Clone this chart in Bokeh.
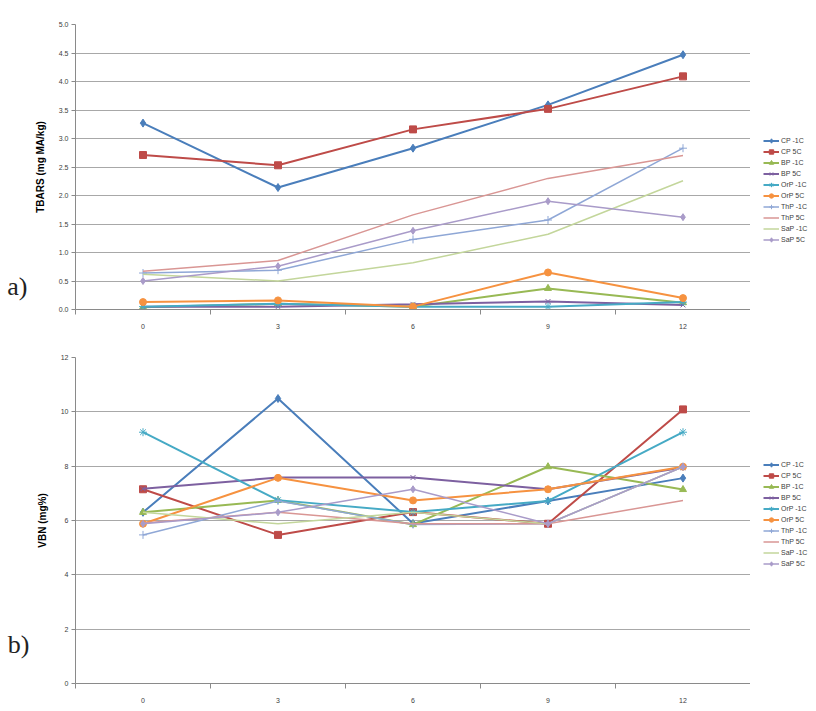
from bokeh.plotting import figure
from bokeh.models import (Range1d, FixedTicker, Legend, LegendItem, LinearAxis,
                          NumeralTickFormatter, CustomJSTickFormatter)
from bokeh.layouts import column, row
from bokeh.embed import file_html
from bokeh.resources import INLINE

# ---------------- data ----------------
days = [0, 3, 6, 9, 12]
series_names = ["CP -1C", "CP 5C", "BP -1C", "BP 5C", "OrP -1C",
                "OrP 5C", "ThP -1C", "ThP 5C", "SaP -1C", "SaP 5C"]

# a) TBARS (mg MA/kg)
tbars_cp_m1 = [3.27, 2.14, 2.83, 3.59, 4.47]
tbars_cp_5 = [2.71, 2.53, 3.16, 3.52, 4.09]
tbars_bp_m1 = [0.04, 0.10, 0.05, 0.37, 0.12]
tbars_bp_5 = [0.05, 0.05, 0.09, 0.14, 0.08]
tbars_orp_m1 = [0.05, 0.10, 0.05, 0.05, 0.13]
tbars_orp_5 = [0.13, 0.16, 0.05, 0.65, 0.20]
tbars_thp_m1 = [0.64, 0.69, 1.23, 1.57, 2.83]
tbars_thp_5 = [0.67, 0.86, 1.66, 2.30, 2.70]
tbars_sap_m1 = [0.62, 0.50, 0.82, 1.32, 2.26]
tbars_sap_5 = [0.50, 0.76, 1.38, 1.90, 1.62]

# b) VBN (mg%)
vbn_cp_m1 = [6.30, 10.49, 5.89, 6.72, 7.56]
vbn_cp_5 = [7.15, 5.47, 6.31, 5.88, 10.09]
vbn_bp_m1 = [6.30, 6.74, 5.85, 7.98, 7.14]
vbn_bp_5 = [7.17, 7.58, 7.58, 7.15, 7.95]
vbn_orp_m1 = [9.25, 6.75, 6.31, 6.72, 9.25]
vbn_orp_5 = [5.88, 7.57, 6.74, 7.15, 7.98]
vbn_thp_m1 = [5.47, 6.72, 5.85, 5.88, 7.98]
vbn_thp_5 = [5.91, 6.30, 5.88, 5.88, 6.74]
vbn_sap_m1 = [6.30, 5.88, 6.30, 5.88, 7.98]
vbn_sap_5 = [5.88, 6.30, 7.15, 5.88, 7.98]

tbars_all = [tbars_cp_m1, tbars_cp_5, tbars_bp_m1, tbars_bp_5, tbars_orp_m1,
             tbars_orp_5, tbars_thp_m1, tbars_thp_5, tbars_sap_m1, tbars_sap_5]
vbn_all = [vbn_cp_m1, vbn_cp_5, vbn_bp_m1, vbn_bp_5, vbn_orp_m1,
           vbn_orp_5, vbn_thp_m1, vbn_thp_5, vbn_sap_m1, vbn_sap_5]

# ---------------- styles ----------------
colors = ["#4A7EBB", "#BE4B48", "#98B954", "#7D60A0", "#46AAC5",
          "#F69240", "#8FA7D6", "#D99694", "#C3D69B", "#A99BC9"]
markers = ["diamond", "square", "triangle", "x", "asterisk",
           "circle", "cross", None, None, "diamond"]
msizes = [8, 7, 7, 7, 8, 7, 8, 0, 0, 7]
lwidths = [2, 2, 2, 2, 2, 2, 1.5, 1.5, 1.5, 1.5]

FONT = "Liberation Sans"
GRID = "#a8a8a8"
AXIS = "#8a8a8a"
MAIN_W = 750
LEG_W = 66


def make_chart(values, ymax, ystep, yfmt, ylabel, tag, tag_pos, h, btop,
               bbottom):
    p = figure(width=MAIN_W, height=h, output_backend="svg",
               toolbar_location=None,
               x_range=Range1d(-1.5, 13.5), y_range=Range1d(0, ymax),
               min_border_left=75, min_border_right=0,
               min_border_top=btop, min_border_bottom=bbottom)
    p.outline_line_color = None
    p.background_fill_color = "white"
    p.border_fill_color = "white"

    # x axis: labels at categories, tick marks between them
    p.xaxis.ticker = FixedTicker(ticks=days,
                                 minor_ticks=[-1.5, 1.5, 4.5, 7.5, 10.5, 13.5])
    p.xaxis.major_tick_out = 0
    p.xaxis.major_tick_in = 0
    p.xaxis.minor_tick_out = 5
    p.xaxis.minor_tick_in = 0
    p.xaxis.major_label_standoff = 9
    p.xgrid.grid_line_color = None

    yt = [round(i * ystep, 2) for i in range(int(round(ymax / ystep)) + 1)]
    p.yaxis.ticker = FixedTicker(ticks=yt)
    p.yaxis.formatter = NumeralTickFormatter(format=yfmt)
    p.yaxis.major_tick_out = 4
    p.yaxis.major_tick_in = 0
    p.yaxis.minor_tick_out = 0
    p.yaxis.minor_tick_in = 0
    p.yaxis.major_label_standoff = 3
    p.yaxis.axis_label = ylabel
    p.yaxis.axis_label_text_font = FONT
    p.yaxis.axis_label_text_font_style = "bold"
    p.yaxis.axis_label_text_font_size = "10px"
    p.yaxis.axis_label_text_color = "#000000"
    p.yaxis.axis_label_standoff = 10
    p.ygrid.grid_line_color = GRID
    p.ygrid.grid_line_width = 1

    for ax in (p.xaxis, p.yaxis):
        ax.axis_line_color = AXIS
        ax.major_tick_line_color = AXIS
        ax.minor_tick_line_color = AXIS
        ax.major_label_text_font = FONT
        ax.major_label_text_font_size = "7px"
        ax.major_label_text_color = "#404040"

    # panel tag "a)" / "b)" drawn as the only label of a bare outer axis
    tag_axis = LinearAxis(ticker=FixedTicker(ticks=[tag_pos]),
                          formatter=CustomJSTickFormatter(code="return '%s'" % tag),
                          axis_line_color=None, major_tick_line_color=None,
                          minor_tick_line_color=None,
                          major_tick_out=0, major_tick_in=0,
                          major_label_standoff=4,
                          major_label_text_font="Liberation Serif",
                          major_label_text_font_size="26px",
                          major_label_text_color="#222222")
    p.add_layout(tag_axis, "left")

    for ys, c, m, ms, lw in zip(values, colors, markers, msizes, lwidths):
        p.line(days, ys, line_color=c, line_width=lw)
        if m is not None:
            p.scatter(days, ys, marker=m, size=ms, fill_color=c,
                      line_color=c, line_width=1)
    return p


def make_legend(values, h, leg_y):
    # legend-only strip: the series are drawn here too, but outside its ranges,
    # so only the legend entries (glyph + label) are visible
    q = figure(width=LEG_W, height=h, output_backend="svg",
               toolbar_location=None, x_axis_location=None,
               y_axis_location=None, min_border=0,
               x_range=Range1d(-1000, -999), y_range=Range1d(-1000, -999))
    q.outline_line_color = None
    q.grid.grid_line_color = None
    items = []
    for name, ys, c, m, ms, lw in zip(series_names, values, colors, markers,
                                      msizes, lwidths):
        rs = [q.line(days, ys, line_color=c, line_width=lw)]
        if m is not None:
            rs.append(q.scatter(days, ys, marker=m, size=ms - 1, fill_color=c,
                                line_color=c, line_width=1))
        items.append(LegendItem(label=name, renderers=rs))
    legend = Legend(items=items, location=(13, leg_y))
    legend.label_text_font = FONT
    legend.label_text_font_size = "7px"
    legend.label_text_color = "#404040"
    legend.glyph_width = 16
    legend.glyph_height = 11
    legend.label_height = 11
    legend.label_standoff = 2
    legend.spacing = 0
    legend.padding = 0
    legend.margin = 0
    legend.border_line_color = None
    legend.background_fill_alpha = 0
    q.add_layout(legend, "center")
    return q


p1 = make_chart(tbars_all, 5.0, 0.5, "0.0", "TBARS (mg MA/kg)", "a)", 0.41,
                340, 24, 31)
l1 = make_legend(tbars_all, 340, 64)
p2 = make_chart(vbn_all, 12, 2, "0", "VBN (mg%)", "b)", 1.42,
                371, 17, 28)
l2 = make_legend(vbn_all, 371, 114)

layout = column(row(p1, l1, spacing=0), row(p2, l2, spacing=0), spacing=0)
open("out.html", "w").write(file_html(layout, INLINE))
